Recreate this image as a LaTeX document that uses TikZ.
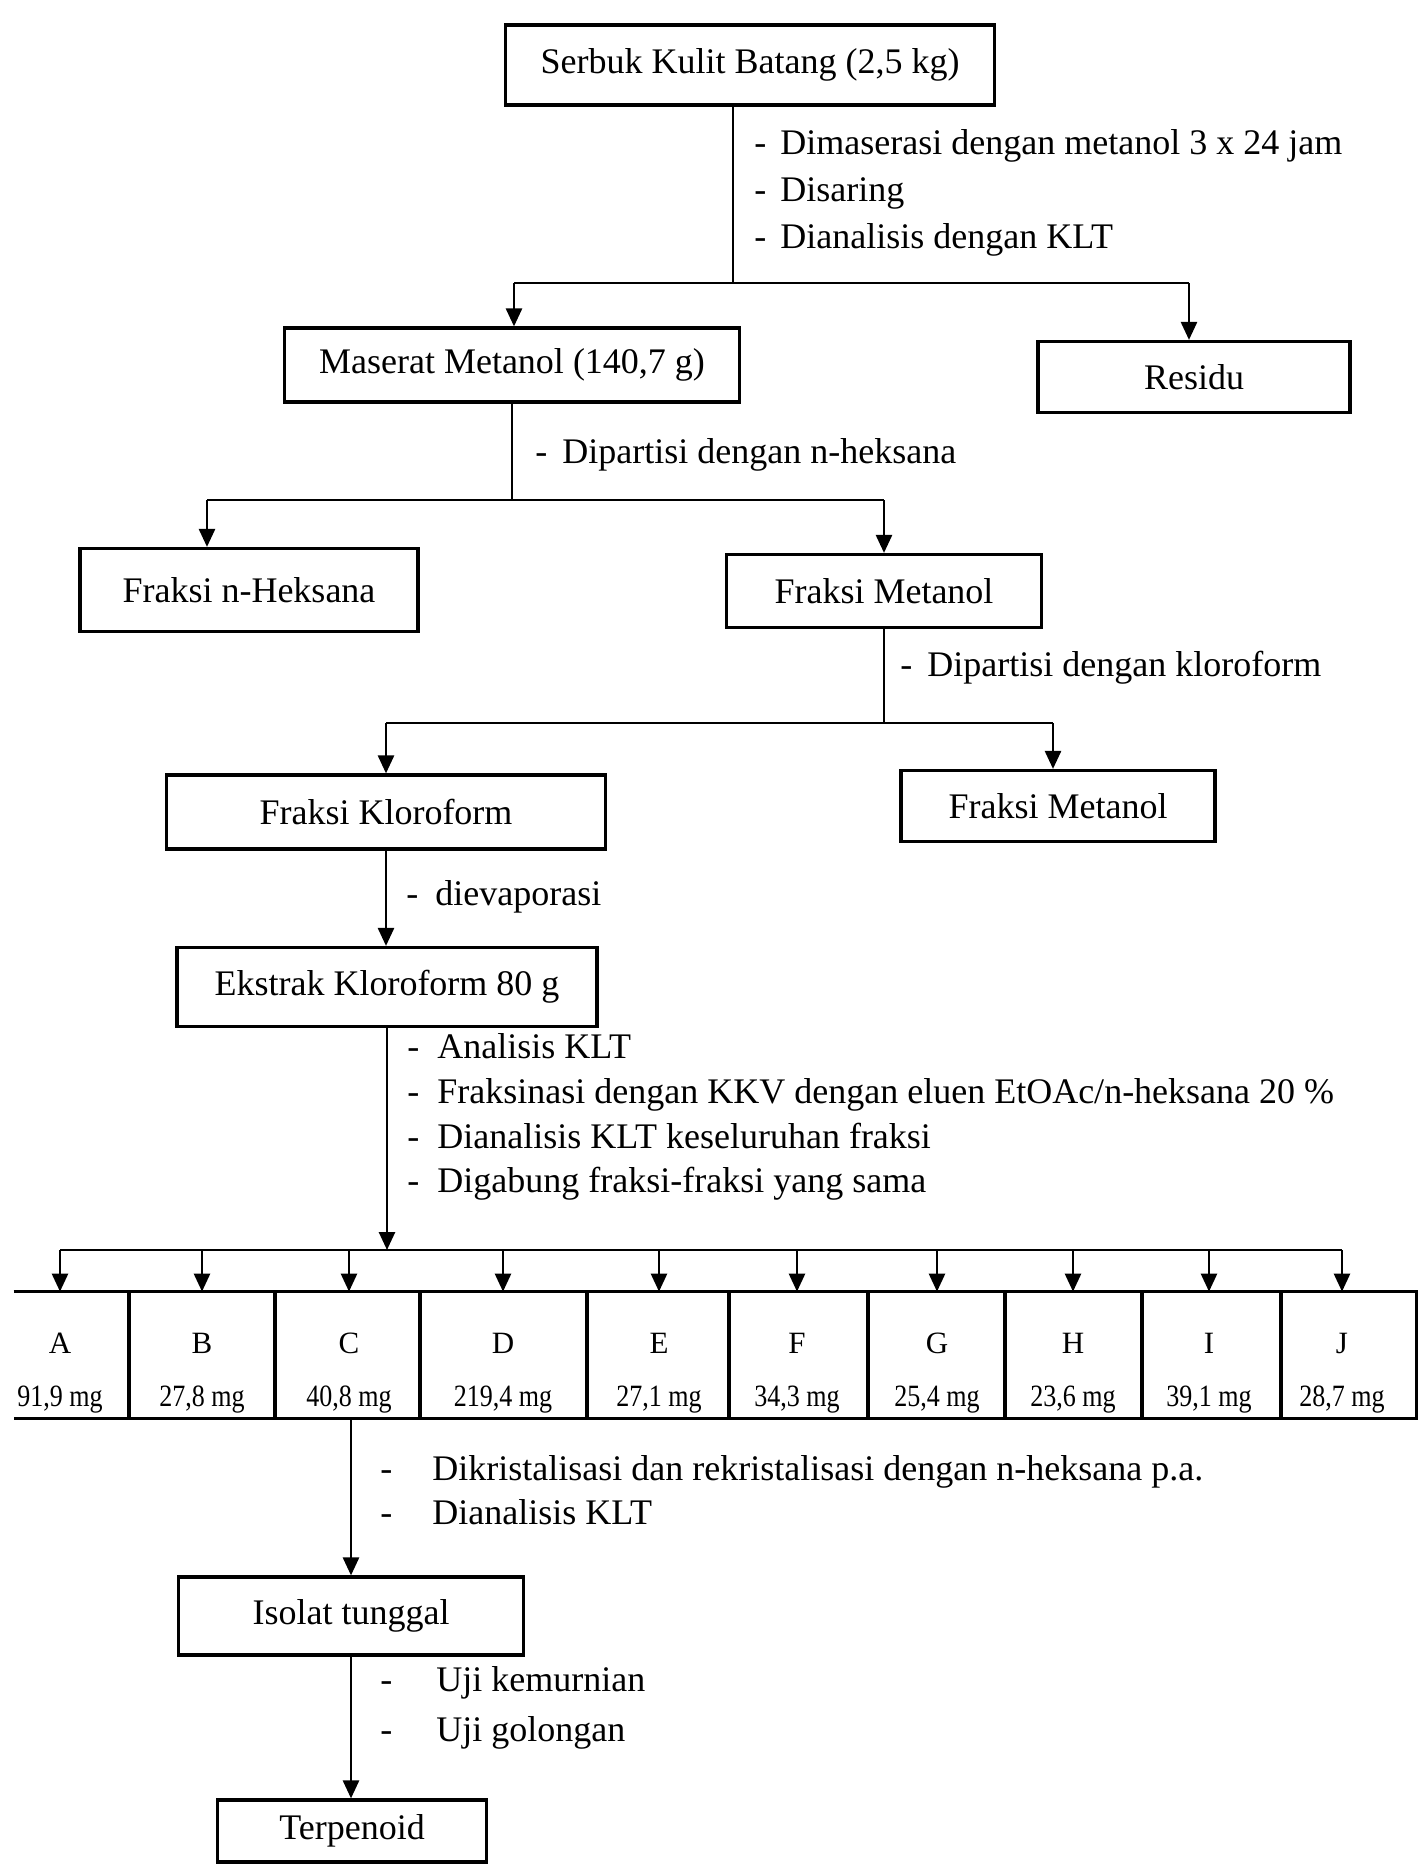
\documentclass[tikz,border=0pt]{standalone}
\usepackage{fontspec}
\setmainfont{Liberation Serif}
\usetikzlibrary{arrows.meta}
\tikzset{
  box/.style 2 args={draw, line width=1.6pt, minimum width=#1*0.5pt, minimum height=#2*0.5pt, inner sep=0pt, font=\fontsize{18}{22}\selectfont},
  conn/.style={line width=1.3pt},
  arr/.style={line width=1.3pt, -{Triangle[length=9pt,width=8pt]}},
  lbl/.style={inner sep=0pt, anchor=west, align=left},
  rowline/.style={line width=1.6pt},
  letter/.style={inner sep=0pt, font=\fontsize{15.5}{18}\selectfont},
  mass/.style={inner sep=0pt, font=\fontsize{15.5}{18}\selectfont},
}
\begin{document}
\begin{tikzpicture}[x=0.5pt,y=-0.5pt]
\useasboundingbox (0,0) rectangle (1422,1876);
\fill[white] (0,0) rectangle (1422,1876);

% boxes
\node[box={489}{80}] (serbuk) at (750,65) {Serbuk Kulit Batang (2,5 kg)};
\node[box={455}{74}] (maserat) at (512,365) {Maserat Metanol (140,7 g)};
\node[box={312}{71}] (residu) at (1194,377) {Residu};
\node[box={338}{83}] (heksana) at (249,590) {Fraksi n-Heksana};
\node[box={315}{73}] (metanolA) at (884,591) {Fraksi Metanol};
\node[box={439}{74}] (kloro) at (386,812) {Fraksi Kloroform};
\node[box={314}{71}] (metanolB) at (1058,806) {Fraksi Metanol};
\node[box={420}{79}] (ekstrak) at (387,987) {Ekstrak Kloroform 80 g};
\node[box={345}{78}] (isolat) at (351,1616) {Isolat tunggal};
\node[box={269}{62}] (terpen) at (352,1831) {Terpenoid};

% fraction row
\node[inner sep=0pt, minimum width=701pt, minimum height=63pt] (row) at (715,1355) {};
\draw[rowline] (row.north west) -- (row.north east) -- (row.south east) -- (row.south west);
\foreach \s in {129,275,420,587,729,868,1005,1142,1281}
  \draw[rowline] (\s,1292) -- (\s,1418);
\foreach \x/\L/\m in {60/A/{91,9 mg},202/B/{27,8 mg},349/C/{40,8 mg},503/D/{219,4 mg},659/E/{27,1 mg},797/F/{34,3 mg},937/G/{25,4 mg},1073/H/{23,6 mg},1209/I/{39,1 mg},1342/J/{28,7 mg}}{
  \node[letter] (l\L) at (\x,1343) {\L};
  \node[mass] (m\L) at (\x,1400) {\scalebox{0.84}[1]{\m}};
}

% connectors: serbuk
\coordinate (j1) at (733,283);
\coordinate (j1L) at (514,283);
\coordinate (j1R) at (1189,283);
\draw[conn] (serbuk.south -| j1) -- (j1);
\draw[conn] (j1L) -- (j1R);
\draw[arr] (j1L) -- (j1L |- maserat.north);
\draw[arr] (j1R) -- (j1R |- residu.north);

% maserat
\coordinate (j2) at (512,500);
\coordinate (j2L) at (207,500);
\coordinate (j2R) at (884,500);
\draw[conn] (maserat.south) -- (j2);
\draw[conn] (j2L) -- (j2R);
\draw[arr] (j2L) -- (j2L |- heksana.north);
\draw[arr] (j2R) -- (metanolA.north);

% metanol A
\coordinate (j3) at (884,723);
\coordinate (j3L) at (386,723);
\coordinate (j3R) at (1053,723);
\draw[conn] (metanolA.south) -- (j3);
\draw[conn] (j3L) -- (j3R);
\draw[arr] (j3L) -- (kloro.north);
\draw[arr] (j3R) -- (j3R |- metanolB.north);

% kloroform -> ekstrak
\draw[arr] (kloro.south) -- (kloro.south |- ekstrak.north);

% ekstrak -> fractions
\coordinate (j4) at (387,1250);
\coordinate (j4L) at (60,1250);
\coordinate (j4R) at (1342,1250);
\draw[arr] (ekstrak.south) -- (j4);
\draw[conn] (j4L) -- (j4R);
\foreach \L in {A,B,C,D,E,F,G,H,I,J}
  \draw[arr] (j4 -| l\L) -- (row.north -| l\L);

% fractions -> isolat -> terpenoid
\draw[arr] (isolat.north |- row.south) -- (isolat.north);
\draw[arr] (isolat.south) -- (isolat.south |- terpen.north);

% notes
\node[lbl, font=\fontsize{18}{23.5}\selectfont] (n1) at (754,193)
  {\makebox[13pt][l]{-}Dimaserasi dengan metanol 3 x 24 jam\\
   \makebox[13pt][l]{-}Disaring\\
   \makebox[13pt][l]{-}Dianalisis dengan KLT};
\node[lbl, font=\fontsize{18}{22}\selectfont] (n2) at (535,455)
  {\makebox[13.5pt][l]{-}Dipartisi dengan n-heksana};
\node[lbl, font=\fontsize{18}{22}\selectfont] (n3) at (900,668)
  {\makebox[13.5pt][l]{-}Dipartisi dengan kloroform};
\node[lbl, font=\fontsize{18}{22}\selectfont] (n4) at (406,897)
  {\makebox[14.5pt][l]{-}dievaporasi};
\node[lbl, font=\fontsize{18}{22.4}\selectfont] (n5) at (407,1117)
  {\makebox[15pt][l]{-}Analisis KLT\\
   \makebox[15pt][l]{-}Fraksinasi dengan KKV dengan eluen EtOAc/n-heksana 20 \%\\
   \makebox[15pt][l]{-}Dianalisis KLT keseluruhan fraksi\\
   \makebox[15pt][l]{-}Digabung fraksi-fraksi yang sama};
\node[lbl, font=\fontsize{18}{22}\selectfont] (n6) at (380,1490)
  {\makebox[26pt][l]{-}Dikristalisasi dan rekristalisasi dengan n-heksana p.a.\\
   \makebox[26pt][l]{-}Dianalisis KLT};
\node[lbl, font=\fontsize{18}{25}\selectfont] (n7) at (380,1708)
  {\makebox[28pt][l]{-}Uji kemurnian\\
   \makebox[28pt][l]{-}Uji golongan};
\end{tikzpicture}
\end{document}
